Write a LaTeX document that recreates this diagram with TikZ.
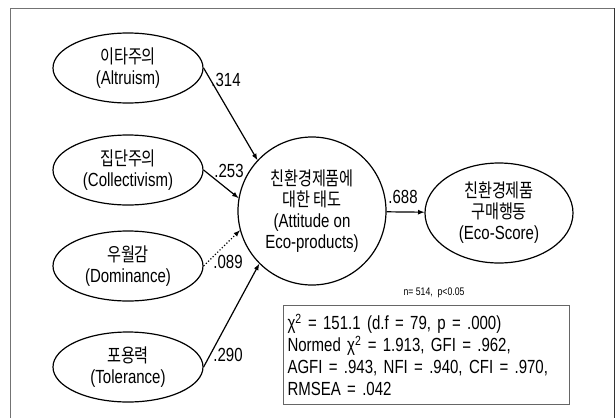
\documentclass[tikz,border=0pt]{standalone}
\usepackage{fontspec}
\setmainfont{Liberation Sans}[FakeStretch=0.79]
\newfontfamily\kr{Noto Sans CJK KR}[FakeStretch=0.8]
\usetikzlibrary{shapes.geometric}

\begin{document}
\begin{tikzpicture}[x=1pt, y=-1pt, >=latex, line width=1.2pt,
  every node/.style={font=\fontsize{19}{21}\selectfont, align=center},
  var/.style={draw, ellipse, minimum width=150pt, minimum height=70pt, inner sep=0pt},
  coef/.style={inner sep=0pt}]
  \useasboundingbox (0,0) rectangle (616,418);
  % frame
  \draw[line width=1pt, black!55] (10,418) -- (10,8) -- (614,8);
  \draw[line width=1pt, black!80] (614,8) -- (614,418);
  % predictors
  \node[var] (alt) at (128,68) {{\kr 이타주의}\\(Altruism)};
  \node[var] (col) at (128,170) {{\kr 집단주의}\\(Collectivism)};
  \node[var] (dom) at (128,266) {{\kr 우월감}\\(Dominance)};
  \node[var] (tol) at (128,367) {{\kr 포용력}\\(Tolerance)};
  % attitude and behaviour
  \node[draw, circle, minimum size=148pt, inner sep=0pt] (att) at (312,211)
    {{\kr 친환경제품에}\\{\kr 대한 태도}\\(Attitude on\\Eco-products)};
  \node[var, minimum width=148pt, minimum height=100pt] (eco) at (499,213)
    {{\kr 친환경제품}\\{\kr 구매행동}\\(Eco-Score)};
  \draw[->] (alt.east) -- (att.137);
  \draw[->] (col.east) -- (att.170);
  \draw[->, dotted] (dom.east) -- (att.195);
  \draw[->] (tol.east) -- (att.225);
  \draw[->] (att) -- (eco);
  % path coefficients
  \node[coef] (c1) at (226,80) {.314};
  \node[coef] (c2) at (229,171) {.253};
  \node[coef] (c3) at (228,262) {.089};
  \node[coef] (c4) at (228,355) {.290};
  \node[coef] (c5) at (403,197) {.688};
  % fit indices
  \node[font=\fontsize{11}{13}\selectfont] (n) at (434,293) {n= 514,~ p<0.05};
  \node[draw=black!60, line width=1pt, anchor=north west, align=left, text width=278pt,
    inner xsep=4pt, minimum height=99pt, font=\fontsize{19}{22}\selectfont] (fit) at (283,305)
    {χ\textsuperscript{2} = 151.1 (d.f = 79, p = .000)\\
     Normed χ\textsuperscript{2} = 1.913, GFI = .962,\\
     AGFI = .943, NFI = .940, CFI = .970,\\
     RMSEA = .042};
\end{tikzpicture}
\end{document}
